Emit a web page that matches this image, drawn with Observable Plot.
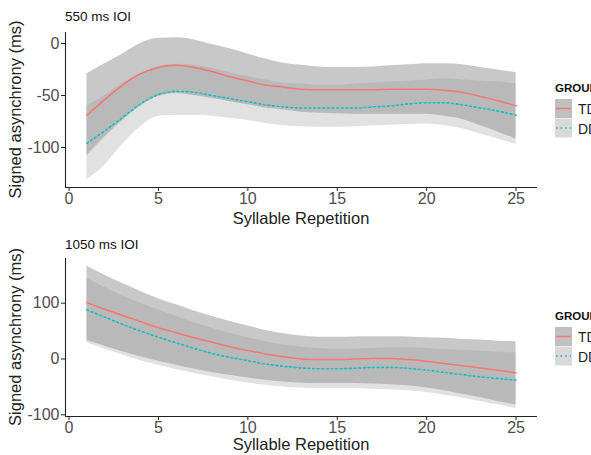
<!DOCTYPE html>
<html><head><meta charset="utf-8">
<script src="https://cdn.jsdelivr.net/npm/d3@7"></script>
<script src="https://cdn.jsdelivr.net/npm/@observablehq/plot@0.6"></script>
<style>
body{margin:0;background:#fff;}
#wrap{position:relative;width:591px;height:455px;overflow:hidden;font-family:"Liberation Sans",Arial,sans-serif;}
#wrap svg{position:absolute;left:0;}
</style></head><body><div id="wrap"></div>
<script>
const reps = d3.range(1, 26);
const groups = ["TD", "DD"];
const panelTitles = ["550 ms IOI", "1050 ms IOI"];
const xTicks = [0, 5, 10, 15, 20, 25];
const yTicks550 = [0, -50, -100];
const yTicks1050 = [100, 0, -100];

const td550Mean = [-69,-54,-40,-29,-23,-21,-23,-27,-32,-36,-40,-42,-44,-44.5,-44.5,-44.5,-44.5,-44,-44,-44,-45,-47,-51,-55,-60];
const td550Hi   = [-29,-19.5,-10,0,5,5.5,3.5,-1,-5,-10,-15,-19,-21,-22.5,-23,-23,-22.5,-21.5,-20.5,-19.5,-19.5,-20.5,-23,-25.5,-28];
const td550Lo   = [-108,-90,-74,-60,-51,-48,-50,-53,-56,-59,-62,-64,-66,-67,-67.5,-68,-68,-68,-68,-68,-70,-73,-79,-85,-92];
const dd550Mean = [-96,-84,-71,-58,-49,-46,-47,-50,-53,-56,-59,-61,-62,-62,-62,-62,-61,-60,-58,-57,-57,-59,-62,-65,-69];
const dd550Hi   = [-60,-50,-38,-29,-22,-20,-21,-24,-28,-32,-35,-38,-39,-40,-40,-39,-38,-37,-36,-35,-34,-35,-36,-37,-39];
const dd550Lo   = [-131,-117,-97,-80,-70,-69,-69,-70,-72,-74,-77,-79,-80,-80.5,-80.5,-80,-79,-78.5,-78,-77.5,-79,-82,-87,-92,-97];

const td1050Mean = [101,89,78,67,56,47,38,30,22,15,9,4,0,-1,-1,0,1,1,-1,-4,-8,-12,-16,-20,-25];
const td1050Hi   = [166,150,135,121,108,97,86,76,67,59,51,45,41,39,39,39.5,40,40,39.5,38,37,35,34,32,31];
const td1050Lo   = [33,23,13,4,-4,-11,-18,-24,-29,-34,-38,-41,-43,-44,-44,-44,-45,-46,-48,-52,-57,-63,-69,-76,-82];
const dd1050Mean = [88,75,62,50,39,29,19,10,3,-3,-9,-13,-16,-17.5,-17.5,-16.5,-15,-15,-17,-20,-24,-28,-32,-35,-38];
const dd1050Hi   = [144,128,113,100,88,76,65,55,46,38,31,25,21,19,18,18,19,20,20,19,17,15,14,12,11];
const dd1050Lo   = [29,18,7,-3,-11,-19,-26,-32,-38,-43,-47,-50,-52,-53,-53,-53,-54,-55,-57,-60,-65,-70,-76,-82,-89];

function rows(mean, lo, hi, group) {
  return reps.map((x, i) => ({x, mean: mean[i], lo: lo[i], hi: hi[i], group}));
}

const colors = {TD: "#F8766D", DD: "#00BFC4"};
const bandFill = {TD: "#919191", DD: "#c3c3c3"};
const FONT = '"Liberation Sans", Arial, sans-serif';
const xDomain = [-0.2, 26.2];

function panel({td, dd, yDomain, yTicks, height, mt, mb}) {
  const curve = "monotone-x";
  return Plot.plot({
    width: 591, height, marginLeft: 65, marginRight: 54, marginTop: mt, marginBottom: mb,
    x: {domain: xDomain},
    y: {domain: yDomain},
    style: {fontFamily: FONT, fontSize: "16px", background: "transparent", overflow: "visible"},
    marks: [
      Plot.areaY(dd, {x: "x", y1: "lo", y2: "hi", fill: bandFill.DD, fillOpacity: 0.5, curve}),
      Plot.areaY(td, {x: "x", y1: "lo", y2: "hi", fill: bandFill.TD, fillOpacity: 0.5, curve}),
      Plot.lineY(td, {x: "x", y: "mean", stroke: colors.TD, strokeWidth: 1.5, curve}),
      Plot.lineY(dd, {x: "x", y: "mean", stroke: colors.DD, strokeWidth: 1.6, strokeDasharray: "1.6,3", curve}),
      Plot.ruleX([xDomain[0]], {stroke: "#222", strokeWidth: 1.1}),
      Plot.ruleY([yDomain[0]], {stroke: "#222", strokeWidth: 1.1}),
      Plot.axisX({ticks: xTicks, tickSize: 4, tickPadding: 1, tickFormat: d => String(d), label: null,
        stroke: "#222", fill: "#4d4d4d", fontSize: 16}),
      Plot.axisY({ticks: yTicks, tickSize: 4, tickPadding: 2, tickFormat: d => String(d), label: null,
        stroke: "#222", fill: "#4d4d4d", fontSize: 16})
    ]
  });
}

const wrap = document.getElementById("wrap");
const p1 = panel({td: rows(td550Mean, td550Lo, td550Hi, "TD"), dd: rows(dd550Mean, dd550Lo, dd550Hi, "DD"),
  yDomain: [-138.5, 10.6], yTicks: yTicks550, height: 227, mt: 32, mb: 40});
p1.style.top = "0px";
wrap.appendChild(p1);
const p2 = panel({td: rows(td1050Mean, td1050Lo, td1050Hi, "TD"), dd: rows(dd1050Mean, dd1050Lo, dd1050Hi, "DD"),
  yDomain: [-103, 180], yTicks: yTicks1050, height: 228, mt: 31, mb: 39});
p2.style.top = "227px";
wrap.appendChild(p2);

// overlay: titles and legends
const ov = d3.select(wrap).append("svg").attr("width", 591).attr("height", 455)
  .style("top", "0px").style("font-family", FONT);
const layout = [
  {title: panelTitles[0], titleY: 21, plotTop: 32, plotBottom: 187, xTitleY: 224, legY: 88},
  {title: panelTitles[1], titleY: 249, plotTop: 258, plotBottom: 416, xTitleY: 450, legY: 316}
];
layout.forEach(L => {
  ov.append("text").attr("x", 65).attr("y", L.titleY).attr("font-size", 13.5).attr("fill", "#111").text(L.title);
  ov.append("text").attr("x", 301).attr("y", L.xTitleY).attr("text-anchor", "middle")
    .attr("font-size", 16.5).attr("fill", "#222").text("Syllable Repetition");
  ov.append("text").attr("transform", `translate(21,${(L.plotTop + L.plotBottom) / 2}) rotate(-90)`)
    .attr("text-anchor", "middle").attr("font-size", 16.5).attr("fill", "#222").text("Signed asynchrony (ms)");
  ov.append("text").attr("x", 555).attr("y", L.legY + 4).attr("font-size", 11.5).attr("font-weight", "bold")
    .attr("fill", "#111").text("GROUP");
  groups.forEach((g, i) => {
    const y0 = L.legY + 11 + i * 19.5;
    ov.append("rect").attr("x", 555).attr("y", y0).attr("width", 17).attr("height", 19)
      .attr("fill", g === "TD" ? "#c0c0c0" : "#d9d9d9");
    ov.append("line").attr("x1", 556).attr("x2", 571).attr("y1", y0 + 9.5).attr("y2", y0 + 9.5)
      .attr("stroke", colors[g]).attr("stroke-width", 1.5)
      .attr("stroke-dasharray", g === "DD" ? "1.6,3" : null);
    ov.append("text").attr("x", 578).attr("y", y0 + 15).attr("font-size", 14).attr("fill", "#222").text(g);
  });
});
</script>
</body></html>
